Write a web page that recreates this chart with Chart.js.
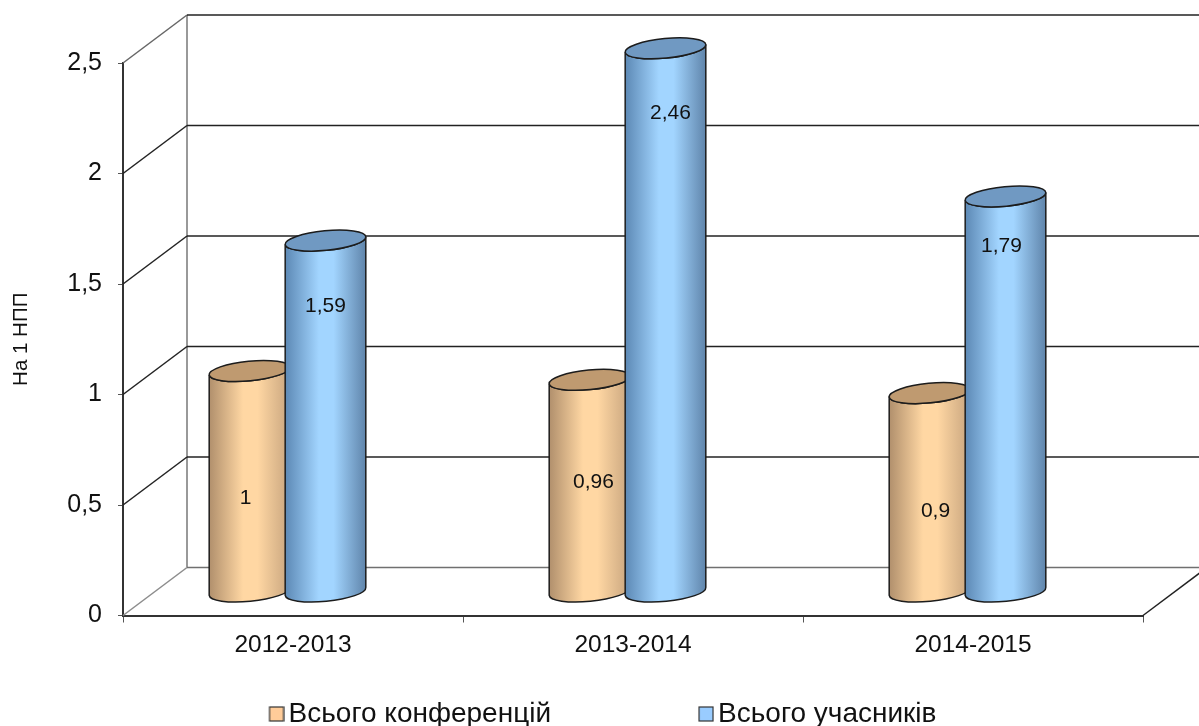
<!DOCTYPE html>
<html>
<head>
<meta charset="utf-8">
<style>html,body{margin:0;padding:0;background:#fff}#wrap{width:1199px;height:726px}</style>
<script src="https://cdn.jsdelivr.net/npm/chart.js@4/dist/chart.umd.js"></script>
</head>
<body>
<div id="wrap"><canvas id="c" width="1199" height="726"></canvas></div>
<script>
const categories = ['2012-2013', '2013-2014', '2014-2015'];
const conferences = [1, 0.96, 0.9];
const participants = [1.59, 2.46, 1.79];
const seriesNames = ['Всього конференцій', 'Всього учасників'];
const axisTitle = 'На 1 НПП';

// label placement relative to the top of each cylinder (px)
const labelNudgeX = [[-5, 3, 5], [-1, 4, -5]];
const labelNudgeY = [[127, 102, 118], [66, 65, 50]];

const FONT = '"Liberation Sans", Arial, sans-serif';
const DEPTH = {x: 64, y: -48};
const BAR_SHIFT = {x: -5.5, y: -23.5};
const TILT = -5.5 * Math.PI / 180;
const RY = 9.8;
const LEGEND_PAD = 152;
const palette = [
  {swatch: '#FFCC99', edgeL: '#B08F6C', mid: '#FFD7A3', edgeR: '#C7A47E', top: '#BF9A70'},
  {swatch: '#99CCFF', edgeL: '#5C88B4', mid: '#A2D5FF', edgeR: '#5F84AA', top: '#7099C2'}
];
const fmt = v => String(v).replace('.', ',');

function swatch(color) {
  const c = document.createElement('canvas');
  c.width = 21; c.height = 16;
  const g = c.getContext('2d');
  g.fillStyle = color; g.fillRect(6, 1, 14, 14);
  g.strokeStyle = '#333'; g.lineWidth = 1.2; g.strokeRect(6, 1, 14, 14);
  return c;
}

function drawCylinder(ctx, el, p) {
  const {x, y, base, width} = el.getProps(['x', 'y', 'base', 'width'], true);
  const cx = x + BAR_SHIFT.x, topY = y + BAR_SHIFT.y, botY = base + BAR_SHIFT.y, rx = width / 2;
  const dx = rx * Math.cos(TILT), dy = rx * Math.sin(TILT);
  const g = ctx.createLinearGradient(cx - rx, 0, cx + rx, 0);
  g.addColorStop(0, p.edgeL); g.addColorStop(0.42, p.mid); g.addColorStop(0.6, p.mid); g.addColorStop(1, p.edgeR);
  ctx.save();
  ctx.lineWidth = 1.5; ctx.strokeStyle = '#1c1c1c';
  ctx.beginPath();
  ctx.moveTo(cx - dx, topY - dy);
  ctx.lineTo(cx - dx, botY - dy);
  ctx.ellipse(cx, botY, rx, RY, TILT, Math.PI, 0, true);
  ctx.lineTo(cx + dx, topY + dy);
  ctx.ellipse(cx, topY, rx, RY, TILT, 0, Math.PI, false);
  ctx.closePath();
  ctx.fillStyle = g; ctx.fill(); ctx.stroke();
  ctx.beginPath();
  ctx.ellipse(cx, topY, rx, RY, TILT, 0, Math.PI * 2);
  ctx.fillStyle = p.top; ctx.fill(); ctx.stroke();
  ctx.restore();
}

const walls = {
  id: 'walls',
  beforeLayout(chart) {
    const l = chart.legend;
    if (!l._fitPatched) {
      const fit = l.fit;
      l.fit = function () { fit.call(this); this.height = 30; };
      l._fitPatched = true;
    }
  },
  afterLayout(chart) {
    const l = chart.legend;
    l.left += 67;
    l.top = 712 - LEGEND_PAD - 12;
    l.bottom = 726;
  },
  beforeDatasetsDraw(chart) {
    const {ctx, chartArea: a, scales: {y}} = chart;
    ctx.save();
    const line = (x1, y1, x2, y2, col, w) => {
      ctx.beginPath(); ctx.moveTo(x1, y1); ctx.lineTo(x2, y2);
      ctx.strokeStyle = col; ctx.lineWidth = w; ctx.stroke();
    };
    const topB = y.getPixelForValue(y.max) + DEPTH.y, botB = y.getPixelForValue(0) + DEPTH.y;
    line(a.left + DEPTH.x, topB, a.left + DEPTH.x, botB, '#999', 2);
    y.ticks.forEach(t => {
      const py = y.getPixelForValue(t.value);
      const floor = t.value === 0, ceil = t.value === y.max;
      line(a.left, py, a.left + DEPTH.x, py + DEPTH.y, floor ? '#8c8c8c' : ceil ? '#666' : '#222', 1.5);
      line(a.left + DEPTH.x, py + DEPTH.y, chart.width + 2, py + DEPTH.y, floor ? '#707070' : '#222', 1.5);
    });
    const base = y.getPixelForValue(0);
    line(a.right, base, a.right + DEPTH.x, base + DEPTH.y, '#222', 1.5);
    ctx.restore();
  },
  beforeDatasetDraw() { return false; },
  afterDatasetsDraw(chart) {
    const {ctx} = chart;
    [0, 1].forEach(d => chart.getDatasetMeta(d).data.forEach(el => drawCylinder(ctx, el, palette[d])));
    ctx.save();
    ctx.font = '21px ' + FONT; ctx.fillStyle = '#111'; ctx.textAlign = 'center'; ctx.textBaseline = 'middle';
    [0, 1].forEach(d => chart.getDatasetMeta(d).data.forEach((el, i) => {
      const v = chart.data.datasets[d].data[i];
      ctx.fillText(fmt(v), el.x + BAR_SHIFT.x + labelNudgeX[d][i] + 1, el.y + BAR_SHIFT.y + labelNudgeY[d][i]);
    }));
    ctx.restore();
  }
};

new Chart(document.getElementById('c'), {
  type: 'bar',
  data: {
    labels: categories,
    datasets: [
      {label: seriesNames[0], data: conferences, backgroundColor: palette[0].swatch},
      {label: seriesNames[1], data: participants, backgroundColor: palette[1].swatch}
    ]
  },
  options: {
    responsive: false,
    animation: false,
    events: [],
    layout: {padding: {top: 63, right: 56, left: 0, bottom: 0}},
    categoryPercentage: 0.447,
    barPercentage: 1.066,
    scales: {
      x: {
        grid: {drawOnChartArea: false, drawTicks: true, tickLength: 7, color: '#555', offset: true},
        border: {color: '#333', width: 2},
        ticks: {font: {family: FONT, size: 24.5}, color: '#111', padding: 8, maxRotation: 0},
        afterFit(s) { s.height = 80.5; }
      },
      y: {
        min: 0, max: 2.5,
        grid: {drawOnChartArea: false, drawTicks: true, tickLength: 5, color: '#555'},
        border: {color: '#333', width: 2},
        ticks: {stepSize: 0.5, font: {family: FONT, size: 25}, color: '#111', padding: 16, callback: v => fmt(v)},
        title: {display: true, text: axisTitle, font: {family: FONT, size: 20.5}, color: '#111', padding: {top: 9, bottom: 0}},
        afterFit(s) { s.width = 123; }
      }
    },
    plugins: {
      tooltip: {enabled: false},
      legend: {
        position: 'bottom',
        labels: {
          font: {family: FONT, size: 28}, color: '#111', usePointStyle: true, pointStyleWidth: 1, padding: LEGEND_PAD, boxHeight: 16,
          generateLabels(chart) {
            return chart.data.datasets.map((d, i) => ({
              text: d.label, fillStyle: d.backgroundColor, strokeStyle: '#333', lineWidth: 1, hidden: false,
              datasetIndex: i, fontColor: '#111', pointStyle: swatch(d.backgroundColor)
            }));
          }
        }
      }
    }
  },
  plugins: [walls]
});
</script>
</body>
</html>
